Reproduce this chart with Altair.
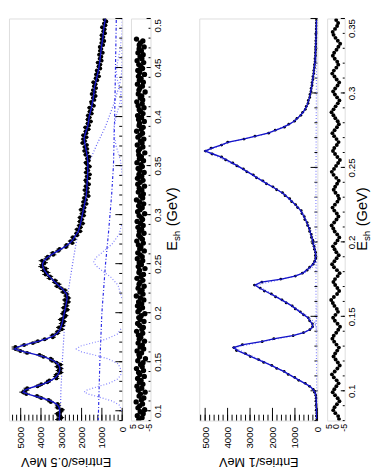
import altair as alt
import pandas as pd

FONT = "Liberation Sans"
FIT_C = "#1414c8"
LIGHT_C = "#8080ff"
DD_C = "#2a2ae6"

# ---------------- top panel (inclusive, 0.5 MeV bins shown every 2 MeV) ----------------
top_n = [3160,3000,3100,3190,3040,2965,3175,3170,3185,3515,3625,3990,4195,4720,4885,4750,4680,4170,3985,3685,
         3590,3240,3265,3225,3035,3130,3035,3190,3045,3230,3450,3520,3880,4075,4685,5015,5255,5260,4830,4400,
         4155,3815,3420,3420,3200,3165,2975,3115,2940,2980,2870,3025,2870,2785,2920,2850,2705,2880,2740,2790,
         2655,2820,2650,2765,2740,2910,2825,3015,3205,3135,3310,3310,3570,3555,3775,3695,3870,3770,3970,3925,
         3820,3950,3715,3670,3395,3415,3155,3085,2770,2740,2460,2545,2375,2430,2225,2250,2070,2225,2050,2115,
         1940,2090,1985,2080,1890,1985,1880,2030,1865,1930,1765,1915,1790,1875,1660,1800,1695,1845,1710,1795,
         1640,1745,1800,1640,1740,1595,1785,1680,1743,1603,1715,1795,1655,1725,1625,1805,1720,1860,1730,1850,
         1745,1955,1835,1920,1765,1915,1770,1800,1660,1815,1640,1700,1545,1700,1605,1685,1505,1605,1505,1615,
         1400,1500,1525,1375,1440,1315,1495,1355,1440,1290,1390,1315,1420,1230,1305,1145,1285,1180,1250,1080,
         1165,1075,1205,1015,1110,1025,1135,960,1095,1025,1105,940,1025,885,1015,925,1015,850,930,865,
         990,825,895,780,870]
top_res = [1.2,-0.8,2.1,-1.5,0.3,-2.4,1.7,0.6,-1.1,2.8,-0.4,-1.9,1.0,0.2,-2.7,1.5,-0.6,2.3,-1.3,0.8,
           -0.2,1.9,-2.2,0.5,1.3,-1.7,2.6,-0.9,0.1,-1.4,1.8,-2.9,0.7,1.1,-0.5,2.2,-1.8,0.4,-1.0,1.6,
           -2.3,0.9,0.0,1.4,-1.2,2.5,-0.7,-1.6,0.6,1.9,-2.0,0.3,1.2,-0.3,-2.5,1.7,0.8,-1.1,2.0,-0.6,
           1.3,-1.9,0.2,2.7,-1.4,0.5,-0.8,1.6,-2.1,1.0,0.4,-1.3,2.3,-0.2,-1.7,1.1,0.7,-2.6,1.5,-0.4,
           0.9,-1.2,2.1,-0.9,0.3,1.8,-2.2,0.6,-0.1,1.4,-1.6,2.4,-1.0,0.2,1.2,-2.0,0.8,-0.5,1.7,-1.5,
           0.1,2.2,-1.1,-0.3,1.0,-2.4,1.9,0.4,-0.9,1.3,-1.8,0.7,2.6,-1.2,0.0,-1.6,1.5,-0.7,0.9,-2.3,
           1.8,0.3,-1.4,2.0,-0.6,1.1,-2.1,0.5,1.6,-1.0,-0.2,2.3,-1.7,0.8,-0.4,1.2,-2.5,1.4,0.6,-1.3,
           2.1,-0.8,0.2,-1.9,1.7,0.4,-1.1,2.5,-0.3,-1.5,1.0,0.7,-2.2,1.3,-0.5,1.9,-1.4,0.1,0.9,-2.0,
           1.6,-0.9,2.4,-1.2,0.3,-0.6,1.5,-2.7,1.1,0.5,-1.0,2.0,-1.6,0.8,-0.2,1.4,-2.3,0.6,1.8,-1.1,
           0.0,1.2,-1.8,2.2,-0.7,0.4,-1.5,1.7,-0.4,1.0,-2.1,0.9,0.2,-1.3,2.6]
top_fit = [(0.090,3100),(0.095,3085),(0.100,3080),(0.103,3100),(0.105,3150),(0.107,3250),(0.109,3420),
           (0.111,3650),(0.113,3950),(0.115,4300),(0.117,4650),(0.119,4880),(0.121,4800),(0.123,4560),
           (0.125,4250),(0.127,3950),(0.129,3700),(0.131,3500),(0.133,3350),(0.135,3240),(0.137,3160),
           (0.140,3090),(0.143,3070),(0.146,3110),(0.149,3230),(0.151,3380),(0.153,3580),(0.155,3850),
           (0.157,4200),(0.159,4600),(0.161,5000),(0.163,5300),(0.165,5150),(0.167,4850),(0.169,4480),
           (0.171,4100),(0.173,3780),(0.175,3520),(0.177,3340),(0.179,3210),(0.182,3090),(0.185,3020),
           (0.190,2950),(0.195,2900),(0.200,2850),(0.205,2800),(0.210,2750),(0.215,2710),(0.219,2740),
           (0.223,2900),(0.227,3090),(0.231,3300),(0.235,3500),(0.239,3680),(0.243,3830),(0.247,3910),
           (0.250,3920),(0.253,3850),(0.256,3700),(0.259,3500),(0.262,3250),(0.265,3000),(0.268,2760),
           (0.271,2580),(0.274,2440),(0.278,2320),(0.283,2160),(0.290,2060),(0.300,1960),(0.310,1860),
           (0.320,1765),(0.330,1735),(0.340,1705),(0.350,1690),(0.355,1700),(0.360,1725),(0.365,1770),
           (0.370,1820),(0.375,1860),(0.378,1870),(0.381,1840),(0.385,1780),(0.390,1700),(0.395,1655),
           (0.400,1625),(0.410,1505),(0.420,1415),(0.430,1365),(0.440,1250),(0.450,1145),(0.460,1080),
           (0.470,1030),(0.480,955),(0.490,905),(0.500,830)]
top_bkg = [(0.09,3050),(0.12,3020),(0.15,2950),(0.18,2860),(0.21,2740),(0.24,2520),(0.27,2280),
           (0.30,1990),(0.33,1760),(0.353,1640),(0.37,1280),(0.39,820),(0.412,430),(0.43,160),
           (0.44,50),(0.45,10),(0.47,0)]
top_lin = [(0.09,1180),(0.15,1100),(0.20,1000),(0.25,820),(0.28,680),(0.32,520),(0.35,430),
           (0.40,370),(0.45,330),(0.50,290)]
top_pk1 = [(0.100,20),(0.106,150),(0.110,500),(0.114,1150),(0.117,1650),(0.119,1870),(0.121,1750),
           (0.124,1300),(0.128,650),(0.132,250),(0.136,80),(0.142,10)]
top_pk2 = [(0.140,20),(0.148,200),(0.153,700),(0.157,1400),(0.160,2000),(0.163,2260),(0.166,2050),
           (0.169,1500),(0.173,800),(0.178,250),(0.184,40)]
top_pk3 = [(0.215,20),(0.228,200),(0.236,550),(0.243,1000),(0.248,1300),(0.252,1400),(0.256,1300),
           (0.262,950),(0.270,500),(0.280,150),(0.290,20)]
top_pk4 = [(0.34,0),(0.355,80),(0.37,300),(0.386,430),(0.40,300),(0.415,100),(0.43,10)]
top_pk5 = [(0.41,0),(0.425,90),(0.437,230),(0.445,290),(0.455,230),(0.47,90),(0.485,15),(0.50,0)]

# ---------------- bottom panel (exclusive, 1 MeV bins shown every 2 MeV) ----------------
bot_fit_n = [30,35,35,40,40,45,50,60,75,110,200,330,560,800,1040,1270,1500,1780,2060,2350,
             2650,2950,3250,3550,3740,3300,2500,1900,1100,600,350,200,230,330,420,600,780,960,1140,1360,
             1600,1830,2080,2330,2580,2780,2500,1600,1000,650,480,330,200,110,80,75,90,120,160,190,
             215,250,290,330,370,420,470,540,600,670,740,860,990,1120,1260,1410,1580,1790,2010,2240,
             2460,2680,2890,3110,3330,3550,3800,4050,4300,4650,5000,4700,4300,3960,3300,2750,2200,1850,1500,1250,
             1040,890,750,640,550,480,430,390,350,320,295,270,250,230,210,190,170,155,140,125,
             110,100,90,85,80,75,70,65,60,55,50,48,45,42,40]
bot_n = [25,45,28,52,33,40,62,55,70,125,185,350,540,830,1010,1300,1480,1810,2030,2390,
         2620,2990,3210,3600,3720,3340,2460,1940,1080,620,335,215,220,345,405,620,760,985,1120,1390,
         1575,1860,2050,2360,2550,2800,2470,1630,980,670,460,345,190,120,70,85,80,130,150,205,
         200,265,275,345,355,435,455,560,585,690,720,880,970,1145,1235,1440,1555,1815,1980,2270,
         2430,2710,2860,3140,3300,3580,3770,4080,4270,4690,4980,4730,4270,3990,3270,2780,2170,1880,1470,1275,
         1020,910,735,655,535,495,415,405,340,330,285,280,240,238,202,198,162,160,132,130,
         104,106,84,90,75,80,66,70,56,60,46,52,41,46,37]
bot_res = [-2.1,-1.5,0.4,1.8,0.9,-0.7,-2.4,-1.2,0.6,2.2,1.1,-0.3,-1.8,-0.5,1.4,2.7,0.8,-1.0,-2.6,-1.3,
           0.2,1.6,0.5,-0.9,-2.0,-0.4,1.2,2.4,1.5,-0.2,-1.6,-2.8,-1.1,0.7,1.9,0.3,-1.4,-0.6,1.0,2.1,
           3.2,1.4,-0.8,-2.2,-1.0,0.5,1.7,0.6,-1.2,-2.5,-0.7,1.3,2.6,1.0,-0.5,-1.9,-0.3,0.9,2.0,0.4,
           -1.1,-2.3,-0.9,0.8,1.8,2.9,1.2,-0.4,-1.7,-0.6,1.1,2.3,0.7,-1.0,-2.1,-1.4,0.3,1.5,0.5,-0.8,
           -1.9,-0.2,1.6,2.8,1.3,-0.1,-1.5,-2.7,-1.0,0.6,2.0,1.1,-0.6,-1.8,-0.4,1.2,2.4,0.9,-0.7,-2.0,
           -1.2,0.4,1.7,3.0,1.6,0.2,-1.3,-2.4,-0.8,0.7,1.9,0.5,-1.1,-2.2,-0.5,1.0,2.5,1.4,-0.3,-1.6,
           -0.9,0.8,2.1,1.2,-0.4,-1.7,-2.9,-1.3,0.3,1.6,2.2,0.6,-0.8,-1.5,-0.2]
bot_bkg = [(0.08,25),(0.12,40),(0.16,60),(0.20,70),(0.25,60),(0.30,45),(0.35,30)]
bot_pk1 = [(0.095,10),(0.1026,280),(0.109,1000),(0.118,2150),(0.129,3700),(0.133,2450),(0.137,1050),
           (0.141,300),(0.145,80),(0.150,20),(0.160,5)]
bot_pk2 = [(0.140,10),(0.146,120),(0.151,520),(0.160,1420),(0.171,2720),(0.175,1540),(0.179,580),
           (0.183,220),(0.187,60),(0.192,10)]
bot_pk3 = [(0.180,5),(0.190,40),(0.200,140),(0.210,330),(0.221,690),(0.232,1430),(0.246,2950),
           (0.261,4950),(0.267,3900),(0.273,2150),(0.281,990),(0.291,440),(0.304,220),(0.324,60),(0.35,15)]

# error scale factors (weighted histograms)
top_err_scale = 2.6
bot_err_scale = 1.0

# axis tick values / labels
entries_major = [0, 1000, 2000, 3000, 4000, 5000]
res_labels = [-5, 0, 5]
top_e_major = [0.1, 0.15, 0.2, 0.25, 0.3, 0.35, 0.4, 0.45, 0.5]
bot_e_major = [0.1, 0.15, 0.2, 0.25, 0.3, 0.35]

H = 412


def bins(first, step, n):
    return [round(first + step * i, 4) for i in range(n)]


def pairs_df(p):
    return pd.DataFrame({"E": [a for a, b in p], "N": [b for a, b in p]})


def main_panel(W, xmax, ymin, ymax, data_e, data_n, errscale, psize, fit_df, comps, e_major, title):
    xs = alt.Scale(domain=[0, xmax], reverse=True, nice=False, zero=False)
    ys = alt.Scale(domain=[ymin, ymax], nice=False, zero=False)
    xaxis = alt.Axis(values=entries_major, format="d", labelAngle=270, labelAlign="right",
                     labelBaseline="middle", labelPadding=6, labelFontSize=10, labelFont=FONT,
                     labelColor="black", labelFlush=False, labelOverlap=False, ticks=False,
                     domain=False, grid=False, title=title, titleAngle=180, titleFontSize=13,
                     titleFont=FONT, titleFontWeight="normal", titleColor="black", titleY=42,
                     titleBaseline="middle")
    Y = alt.Y("E:Q", scale=ys, axis=None)
    layers = []
    minor_n = list(range(0, int(xmax), 200))
    e_minor = [round(ymin + 0.01 * i, 3) for i in range(int(round((ymax - ymin) / 0.01)) + 1)]
    layers.append(alt.Chart(pd.DataFrame({"v": minor_n})).mark_rule(color="black", strokeWidth=1).encode(
        x=alt.X("v:Q", scale=xs, axis=xaxis), y=alt.value(H), y2=alt.value(H - 6)))
    layers.append(alt.Chart(pd.DataFrame({"v": entries_major})).mark_rule(color="black", strokeWidth=1).encode(
        x=alt.X("v:Q", scale=xs, axis=xaxis), y=alt.value(H), y2=alt.value(H - 13)))
    layers.append(alt.Chart(pd.DataFrame({"E": e_minor})).mark_rule(color="black", strokeWidth=1).encode(
        y=Y, x=alt.value(W), x2=alt.value(W - 3)))
    layers.append(alt.Chart(pd.DataFrame({"E": e_major})).mark_rule(color="black", strokeWidth=1).encode(
        y=Y, x=alt.value(W), x2=alt.value(W - 7)))
    for df, color, dash, sw in comps:
        layers.append(alt.Chart(df).mark_line(color=color, strokeDash=dash, strokeWidth=sw, clip=True).encode(
            x=alt.X("N:Q", scale=xs, axis=xaxis), y=Y, order=alt.Order("E:Q")))
    err = [errscale * v ** 0.5 for v in data_n]
    ddf = pd.DataFrame({"E": data_e, "N": data_n,
                        "lo": [a - b for a, b in zip(data_n, err)],
                        "hi": [a + b for a, b in zip(data_n, err)]})
    layers.append(alt.Chart(ddf).mark_rule(color="black", strokeWidth=1, clip=True).encode(
        x=alt.X("lo:Q", scale=xs, axis=xaxis), x2="hi:Q", y=Y))
    layers.append(alt.Chart(ddf).mark_circle(color="black", size=psize, opacity=1, clip=True).encode(
        x=alt.X("N:Q", scale=xs, axis=xaxis), y=Y))
    layers.append(alt.Chart(fit_df).mark_line(color=FIT_C, strokeWidth=1.4, clip=True).encode(
        x=alt.X("N:Q", scale=xs, axis=xaxis), y=Y, order=alt.Order("E:Q")))
    return alt.layer(*layers).properties(width=W, height=H)


def res_panel(W, ymin, ymax, e, r, e_major, top_label, tx, psize):
    xs = alt.Scale(domain=[-6, 6], reverse=True, nice=False, zero=False)
    ys = alt.Scale(domain=[ymin, ymax], nice=False, zero=False)
    xaxis = alt.Axis(values=res_labels, labelExpr="toString(datum.value)", labelAngle=270,
                     labelAlign="right", labelBaseline="middle", labelPadding=3, labelFontSize=9,
                     labelFont=FONT, labelColor="black", labelFlush=False, labelOverlap=False,
                     ticks=False, domain=False, grid=False, title="")
    yaxis = alt.Axis(orient="right", values=e_major, format=".2~f", labelAngle=270,
                     labelAlign={"condition": {"test": f"datum.value >= {top_label}", "value": "right"},
                                 "value": "center"},
                     labelBaseline="top", labelPadding=2, labelFontSize=10, labelFont=FONT,
                     labelColor="black", labelFlush=False, labelOverlap=False, ticks=False,
                     domain=False, grid=False, title="")
    Y = alt.Y("E:Q", scale=ys, axis=yaxis)
    e_minor = [round(ymin + 0.01 * i, 3) for i in range(int(round((ymax - ymin) / 0.01)) + 1)]
    layers = []
    layers.append(alt.Chart(pd.DataFrame({"E": e_minor})).mark_rule(color="black").encode(
        y=Y, x=alt.value(W), x2=alt.value(W - 2)))
    layers.append(alt.Chart(pd.DataFrame({"E": e_major})).mark_rule(color="black").encode(
        y=Y, x=alt.value(W), x2=alt.value(W - 4)))
    layers.append(alt.Chart(pd.DataFrame({"E": e, "R": r})).mark_circle(
        color="black", size=psize, opacity=1, clip=True).encode(
        x=alt.X("R:Q", scale=xs, axis=xaxis), y=Y))
    layers.append(alt.Chart(pd.DataFrame({"t": ["E"]})).mark_text(
        angle=270, align="left", baseline="middle", fontSize=15, font=FONT, color="black").encode(
        text="t:N", x=alt.value(tx), y=alt.value(238)))
    layers.append(alt.Chart(pd.DataFrame({"t": ["sh"]})).mark_text(
        angle=270, align="left", baseline="middle", fontSize=10, font=FONT, color="black").encode(
        text="t:N", x=alt.value(tx + 5), y=alt.value(228)))
    layers.append(alt.Chart(pd.DataFrame({"t": ["(GeV)"]})).mark_text(
        angle=270, align="left", baseline="middle", fontSize=15, font=FONT, color="black").encode(
        text="t:N", x=alt.value(tx), y=alt.value(213)))
    return alt.layer(*layers).properties(width=W, height=H)


def spacer(w):
    return alt.Chart(pd.DataFrame({"a": [0]})).mark_point(opacity=0).encode(
        x=alt.value(0), y=alt.value(0)).properties(width=w, height=H,
                                                   view=alt.ViewBackground(stroke="transparent"))


top_e = bins(0.091, 0.002, len(top_n))
top_res_e = bins(0.091, 0.002, len(top_res))
bot_e = bins(0.081, 0.002, len(bot_n))
bot_fit_e = bins(0.081, 0.002, len(bot_fit_n))
bot_res_e = bins(0.081, 0.002, len(bot_res))

top_comps = [
    (pairs_df(top_bkg), "#5a5af5", [1, 2], 1.2),
    (pairs_df(top_lin), DD_C, [3, 2, 1, 2], 1.2),
    (pairs_df(top_pk1), LIGHT_C, [1, 2], 1.2),
    (pairs_df(top_pk2), LIGHT_C, [1, 2], 1.2),
    (pairs_df(top_pk3), LIGHT_C, [1, 2], 1.2),
    (pairs_df(top_pk4), LIGHT_C, [1, 2], 1.2),
    (pairs_df(top_pk5), LIGHT_C, [1, 2], 1.2),
]
bot_comps = [
    (pairs_df(bot_bkg), LIGHT_C, [1, 2], 1.2),
    (pairs_df(bot_pk1), LIGHT_C, [1, 2], 1.2),
    (pairs_df(bot_pk2), LIGHT_C, [1, 2], 1.2),
    (pairs_df(bot_pk3), LIGHT_C, [1, 2], 1.2),
]

main1 = main_panel(116, 5577, 0.09, 0.5, top_e, top_n, top_err_scale, 16, pairs_df(top_fit), top_comps,
                   top_e_major, "Entries/0.5 MeV")
res1 = res_panel(20, 0.09, 0.5, top_res_e, top_res, top_e_major, 0.49, 42, 30)
main2 = main_panel(121, 5261, 0.08, 0.35,
                   bot_e, bot_n, bot_err_scale, 8, pd.DataFrame({"E": bot_fit_e, "N": bot_fit_n}), bot_comps,
                   bot_e_major, "Entries/1 MeV")
res2 = res_panel(18, 0.08, 0.35, bot_res_e, bot_res, bot_e_major, 0.34, 36, 16)

chart = alt.HConcatChart(
    hconcat=[main1, spacer(9), res1, spacer(50), main2, spacer(10), res2],
    spacing=0, bounds="flush",
).properties(
    padding={"left": 0, "top": 1, "right": 0, "bottom": 0}
).configure_view(stroke="#555555", strokeWidth=1).configure(background="white")

chart.save("out.html", embed_options={"renderer": "svg", "actions": False})
